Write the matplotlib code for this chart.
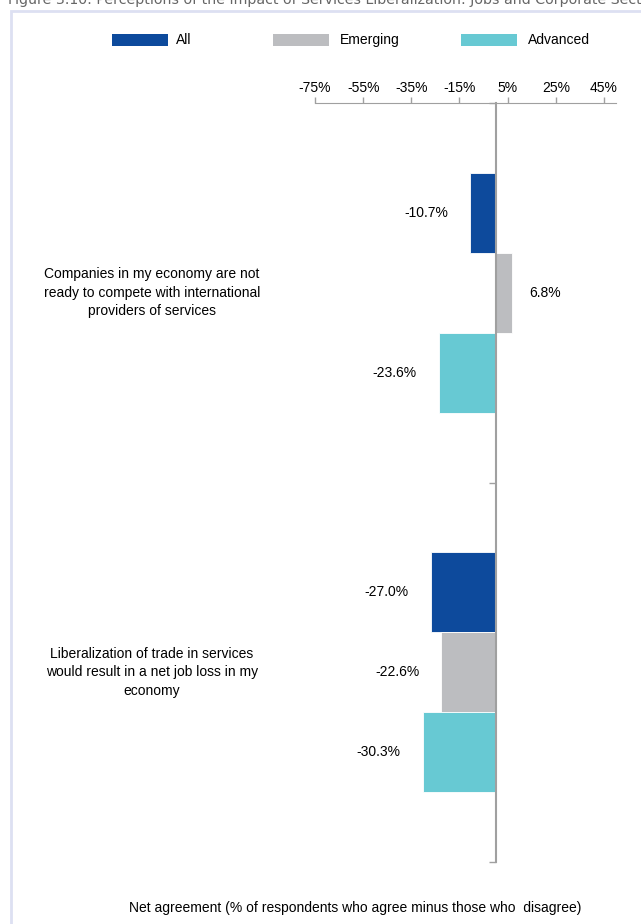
import numpy as np
import matplotlib
matplotlib.use('Agg')
import matplotlib.pyplot as plt
from matplotlib.patches import Rectangle
from matplotlib.transforms import blended_transform_factory

# data
categories = ['Companies in my economy are not\nready to compete with international\nproviders of services',
              'Liberalization of trade in services\nwould result in a net job loss in my\neconomy']
series = ['All', 'Emerging', 'Advanced']
all_vals = [-10.7, -27.0]
emerging_vals = [6.8, -22.6]
advanced_vals = [-23.6, -30.3]
xticks = [-75, -55, -35, -15, 5, 25, 45]

colors = ['#0d4a9c', '#bcbdc0', '#67c9d3']

plt.rcParams['font.family'] = ['Liberation Sans', 'DejaVu Sans']
fs = 10

W, H = 641, 924
fig = plt.figure(figsize=(W / 100, H / 100), dpi=100)

# outer frame (partly cut off in the original)
fig.add_artist(Rectangle((11 / W, -0.1), 1.2, 1.1 - 11 / H, transform=fig.transFigure,
                         fill=False, edgecolor='#dde0f2', lw=2))
fig.text(8 / W, 1 - 4 / H, 'Figure 3.10: Perceptions of the Impact of Services Liberalization: Jobs and Corporate Sector',
         color='#666666', fontsize=10.2, va='baseline', ha='left', family='DejaVu Sans')

ax = fig.add_axes([315 / W, 62 / H, 301 / W, 759 / H])

y = np.arange(len(categories))
h = 0.211
for i, (vals, c) in enumerate(zip([all_vals, emerging_vals, advanced_vals], colors)):
    pos = y + (i - 1) * h
    ax.barh(pos, vals, height=h, color=c, edgecolor='white', linewidth=0.6, zorder=2)
    for p, v in zip(pos, vals):
        off = 17 if v > 0 else -22
        ax.annotate(f'{v:.1f}%', (v, p), xytext=(off, 0), textcoords='offset pixels',
                    ha='left' if v > 0 else 'right', va='center', fontsize=fs)

ax.set_xlim(-75, 50)
ax.set_ylim(1.5, -0.5)
ax.xaxis.tick_top()
ax.set_xticks(xticks)
ax.set_xticklabels([f'{t}%' for t in xticks])
ax.tick_params(axis='x', length=4, width=1, color='#a0a0a0', pad=2, labelsize=fs)

for s in ['right', 'bottom']:
    ax.spines[s].set_visible(False)
ax.spines['top'].set_color('#a0a0a0')
ax.spines['left'].set_color('#a0a0a0')
ax.spines['left'].set_linewidth(1.5)
ax.spines['left'].set_position(('data', 0))

ax.set_yticks([])
ax.set_yticks([-0.5, 0.5, 1.5], minor=True)
ax.tick_params(axis='y', which='minor', length=5, color='#a0a0a0', width=1)
ax.tick_params(axis='y', which='major', length=0)

# category labels
tr = blended_transform_factory(fig.transFigure, ax.transData)
for yi, cat in zip(y, categories):
    ax.text(152 / W, yi, cat, transform=tr, ha='center', va='center', fontsize=fs, linespacing=1.42)

# legend
leg_y = 1 - 40 / H
for (x0, xt), name, c in zip([(112, 176), (273, 340), (461, 528)], series, colors):
    fig.add_artist(Rectangle((x0 / W, leg_y - 6 / H), 56 / W, 12 / H, transform=fig.transFigure,
                             color=c, lw=0))
    fig.text(xt / W, leg_y, name, ha='left', va='center', fontsize=fs)

fig.text(355 / W, 1 - 908 / H, 'Net agreement (% of respondents who agree minus those who  disagree)',
         ha='center', va='center', fontsize=fs)

fig.savefig('out.png', dpi=100)
